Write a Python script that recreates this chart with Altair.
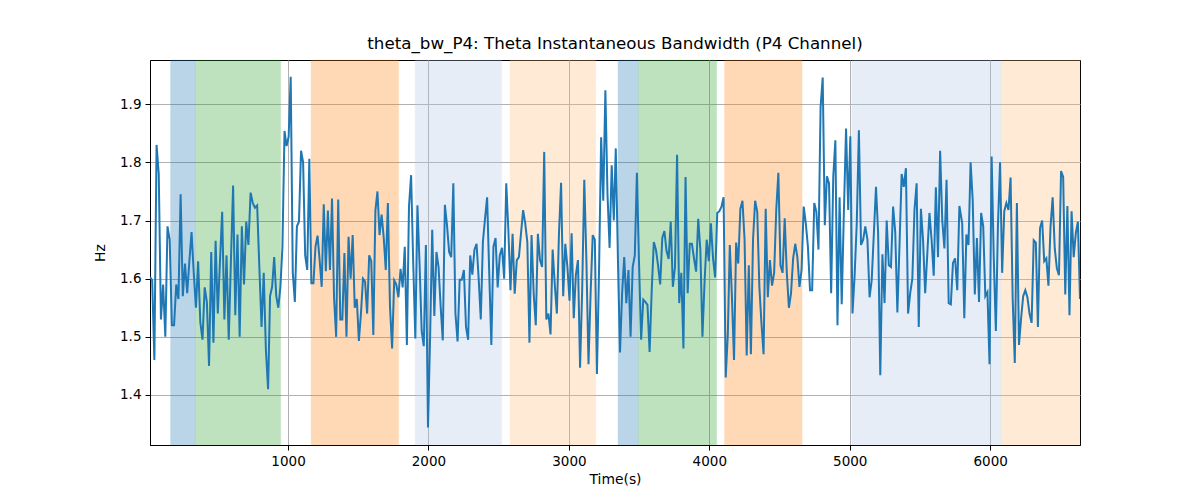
import altair as alt
import pandas as pd
import numpy as np

TITLE = "theta_bw_P4: Theta Instantaneous Bandwidth (P4 Channel)"

# Hz values, grouped by stretch of time (start, end in seconds)
seg_a = [1.603, 1.597, 1.46, 1.83, 1.78, 1.53, 1.59, 1.50, 1.69, 1.667, 1.52, 1.52, 1.59, 1.565, 1.745,
         1.57, 1.626, 1.575, 1.63, 1.68, 1.61, 1.55, 1.63, 1.525, 1.495, 1.585, 1.56, 1.45, 1.646, 1.49,
         1.665, 1.54, 1.63, 1.715, 1.53, 1.64, 1.495, 1.63, 1.76, 1.537, 1.676, 1.50, 1.69, 1.59, 1.698,
         1.658, 1.748, 1.73, 1.722, 1.726, 1.62, 1.517, 1.61, 1.477, 1.41]
seg_b = [1.57, 1.586, 1.637, 1.57, 1.55, 1.586, 1.655, 1.854, 1.828, 1.844, 1.947, 1.61, 1.56, 1.69,
         1.698, 1.82, 1.80, 1.64, 1.615, 1.806, 1.592, 1.592, 1.655, 1.674, 1.632, 1.586, 1.728, 1.613,
         1.717, 1.615, 1.738, 1.566, 1.50, 1.736, 1.53, 1.53, 1.644, 1.50, 1.672, 1.60, 1.675, 1.55,
         1.565, 1.493, 1.54, 1.60, 1.595, 1.54, 1.64, 1.63, 1.503, 1.717, 1.75, 1.675, 1.71, 1.672]
seg_c = [1.615, 1.73, 1.552, 1.48, 1.597, 1.59, 1.568, 1.617, 1.585, 1.655, 1.486, 1.724, 1.778, 1.627,
         1.497, 1.726, 1.626, 1.51, 1.484, 1.658, 1.344, 1.50, 1.684, 1.536, 1.646, 1.62, 1.552, 1.494,
         1.727, 1.692, 1.646, 1.637, 1.764, 1.54, 1.492, 1.598, 1.598, 1.615, 1.517, 1.495, 1.64, 1.607,
         1.65, 1.66, 1.60, 1.53, 1.663, 1.703, 1.74, 1.61, 1.486, 1.655, 1.67, 1.585, 1.64]
seg_d = [1.653, 1.60, 1.764, 1.684, 1.58, 1.677, 1.574, 1.632, 1.637, 1.678, 1.718, 1.695, 1.663, 1.49,
         1.675, 1.575, 1.52, 1.677, 1.632, 1.62, 1.818, 1.53, 1.54, 1.504, 1.65, 1.59, 1.54, 1.678, 1.765,
         1.57, 1.66, 1.62, 1.562, 1.678, 1.532, 1.606, 1.632, 1.447, 1.58, 1.77, 1.632, 1.453, 1.575,
         1.675, 1.667, 1.436, 1.614, 1.843, 1.734, 1.924, 1.746, 1.653, 1.795, 1.70]
seg_e = [1.824, 1.637, 1.473, 1.575, 1.637, 1.558, 1.615, 1.50, 1.62, 1.64, 1.782, 1.626, 1.495, 1.564,
         1.56, 1.555, 1.474, 1.58, 1.663, 1.65, 1.623, 1.59, 1.67, 1.682, 1.648, 1.634, 1.698, 1.586,
         1.62, 1.813, 1.558, 1.61, 1.48, 1.775, 1.575, 1.66, 1.66, 1.635, 1.612, 1.703, 1.65, 1.50,
         1.595, 1.667, 1.63, 1.695, 1.635, 1.602, 1.713, 1.716, 1.724, 1.74, 1.43, 1.505]
seg_f = [1.658, 1.57, 1.46, 1.662, 1.626, 1.72, 1.734, 1.667, 1.468, 1.623, 1.47, 1.667, 1.734, 1.715,
         1.586, 1.523, 1.47, 1.72, 1.568, 1.632, 1.588, 1.61, 1.718, 1.782, 1.623, 1.61, 1.704, 1.61,
         1.55, 1.575, 1.635, 1.66, 1.637, 1.586, 1.615, 1.724, 1.695, 1.655, 1.58, 1.58, 1.73, 1.715,
         1.65, 1.895, 1.946, 1.692, 1.776, 1.764, 1.575, 1.775, 1.838, 1.52, 1.74, 1.556, 1.71]
seg_g = [1.858, 1.718, 1.845, 1.54, 1.605, 1.695, 1.855, 1.658, 1.667, 1.69, 1.667, 1.568, 1.598, 1.678,
         1.758, 1.678, 1.434, 1.642, 1.558, 1.70, 1.623, 1.62, 1.724, 1.68, 1.542, 1.658, 1.78, 1.758,
         1.79, 1.54, 1.575, 1.60, 1.718, 1.764, 1.517, 1.72, 1.667, 1.575, 1.643, 1.713, 1.667, 1.605,
         1.757, 1.637, 1.82, 1.70, 1.652, 1.77, 1.558, 1.556, 1.627, 1.635, 1.58, 1.725]
seg_h = [1.695, 1.532, 1.676, 1.658, 1.80, 1.735, 1.573, 1.67, 1.56, 1.713, 1.69, 1.57, 1.577, 1.453,
         1.81, 1.637, 1.51, 1.692, 1.80, 1.61, 1.716, 1.73, 1.718, 1.774, 1.566, 1.455, 1.73, 1.486,
         1.532, 1.57, 1.58, 1.568, 1.54, 1.524, 1.666, 1.662, 1.517, 1.687, 1.70, 1.63, 1.635, 1.588,
         1.69, 1.74, 1.652, 1.618, 1.606, 1.785, 1.775, 1.573, 1.725, 1.537, 1.716, 1.637, 1.678, 1.698,
         1.565]

seg_starts = [17, 872, 1696, 2524, 3334, 4146, 4974, 5801]
seg_ends = [858, 1681, 2508, 3320, 4132, 4958, 5781, 6640]
segs = [seg_a, seg_b, seg_c, seg_d, seg_e, seg_f, seg_g, seg_h]

times, vals = [], []
for s, e, v in zip(seg_starts, seg_ends, segs):
    times.extend(np.linspace(s, e, len(v)).tolist())
    vals.extend(v)
line_df = pd.DataFrame({"t": times, "hz": vals})

# shaded stage spans
band_start = [163, 340, 1164, 1905, 2581, 3350, 3495, 4108, 5015, 6078]
band_end = [340, 948, 1788, 2522, 3192, 3495, 4053, 4661, 6078, 6640]
band_color = ["#1f77b4", "#2ca02c", "#ff7f0e", "#aec7e8", "#ffbb78",
              "#1f77b4", "#2ca02c", "#ff7f0e", "#aec7e8", "#ffbb78"]
band_df = pd.DataFrame({"s": band_start, "e": band_end, "c": band_color})

XDOM = [17, 6640]
YDOM = [1.314, 1.976]
FONT = "DejaVu Sans"

xscale = alt.Scale(domain=XDOM, nice=False, zero=False)
yscale = alt.Scale(domain=YDOM, nice=False, zero=False)

bands = alt.Chart(band_df).mark_rect(opacity=0.3, strokeWidth=1, strokeOpacity=0.3).encode(
    x=alt.X("s:Q", scale=xscale),
    x2="e:Q",
    fill=alt.Fill("c:N", scale=None),
    stroke=alt.Stroke("c:N", scale=None),
)

line = alt.Chart(line_df).mark_line(color="#1f77b4", strokeWidth=2, clip=True).encode(
    x=alt.X("t:Q", scale=xscale,
            axis=alt.Axis(values=[1000, 2000, 3000, 4000, 5000, 6000], format="d",
                          title="Time(s)", grid=True)),
    y=alt.Y("hz:Q", scale=yscale,
            axis=alt.Axis(values=[1.4, 1.5, 1.6, 1.7, 1.8, 1.9], format=".1f",
                          title="Hz", grid=True)),
)

chart = alt.layer(bands, line).properties(
    width=930,
    height=385,
    title=alt.TitleParams(TITLE, fontSize=16.7, font=FONT, fontWeight="normal",
                          color="black", offset=7),
    autosize=alt.AutoSizeParams(type="none"),
    padding={"left": 142, "top": 52, "right": 112, "bottom": 47},
).configure_view(
    stroke="black", strokeWidth=1,
).configure_axis(
    labelFont=FONT, titleFont=FONT, labelFontSize=13.5, titleFontSize=13.9,
    titleFontWeight="normal", labelColor="black", titleColor="black",
    domainColor="black", tickColor="black", tickSize=5, labelPadding=4,
    gridColor="#b0b0b0", gridWidth=1,
).configure_axisX(
    titlePadding=5,
).configure_axisY(
    titlePadding=12,
)

chart.save("out.html", embed_options={"renderer": "svg", "actions": False})
